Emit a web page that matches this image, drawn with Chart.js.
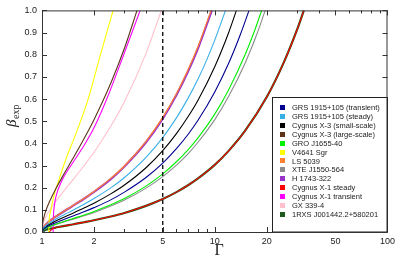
<!DOCTYPE html>
<html>
<head>
<meta charset="utf-8">
<script src="https://cdn.jsdelivr.net/npm/chart.js@4.4.1/dist/chart.umd.min.js"></script>
<style>
  html, body { margin: 0; padding: 0; background: #fff; }
  canvas { display: block; }
</style>
</head>
<body>
<canvas id="grafico" width="399" height="259"></canvas>
<script>
// Nombres de las fuentes (orden de la leyenda)
const seriesNames = [
  'GRS 1915+105 (transient)', 'GRS 1915+105 (steady)', 'Cygnus X-3 (small-scale)',
  'Cygnus X-3 (large-scale)', 'GRO J1655-40', 'V4641 Sgr', 'LS 5039', 'XTE J1550-564',
  'H 1743-322', 'Cygnus X-1 steady', 'Cygnus X-1 transient', 'GX 339-4',
  '1RXS J001442.2+580201'
];

// Ticks del eje x (Gamma, log) y etiquetas visibles
const xTicks = [1, 2, 3, 4, 5, 6, 7, 8, 9, 10, 20, 30, 40, 50, 60, 70, 80, 90, 100];
const xTickLabels = [1, 2, 5, 10, 20, 50, 100];
const gammaCut = 5;

// Curvas: [Gamma, beta_exp]
const grsTransient = [[1,0],[1.02,0.013],[1.05,0.02],[1.1,0.029],[1.2,0.042],[1.35,0.058],[1.5,0.071],[1.75,0.091],[2,0.11],[2.5,0.145],[3,0.18],[4,0.246],[5,0.311],[6,0.376],[7,0.44],[8,0.504],[10,0.632],[12,0.759],[14,0.887],[15.8,1]];
const grsSteady = [[1,0],[1.02,0.017],[1.05,0.028],[1.1,0.04],[1.2,0.058],[1.35,0.079],[1.5,0.097],[1.75,0.125],[2,0.151],[2.5,0.199],[3,0.246],[4,0.337],[5,0.426],[6,0.515],[7,0.603],[8,0.69],[9,0.778],[10,0.866],[11.55,1]];
const cygX3Small = [[1,0],[1.02,0.015],[1.05,0.024],[1.1,0.034],[1.2,0.05],[1.35,0.068],[1.5,0.084],[1.75,0.108],[2,0.13],[2.5,0.172],[3,0.212],[4,0.29],[5,0.367],[6,0.444],[7,0.52],[8,0.595],[10,0.746],[12,0.897],[13.35,1]];
const cygX3Large = [[1,0],[1.01,0.042],[1.02,0.059],[1.05,0.094],[1.1,0.134],[1.2,0.194],[1.35,0.266],[1.5,0.328],[1.75,0.421],[2,0.507],[2.5,0.671],[3,0.829],[3.55,1]];
const groJ1655 = [[1,0],[1.02,0.011],[1.05,0.017],[1.1,0.0245],[1.2,0.035],[1.35,0.0485],[1.5,0.06],[1.75,0.077],[2,0.093],[2.5,0.123],[3,0.151],[4,0.207],[5,0.262],[6,0.317],[7,0.371],[8,0.425],[10,0.532],[12,0.64],[15,0.801],[17,0.908],[18.7,1]];
const v4641Sgr = [[1.095,0],[1.1,0.05],[1.12,0.09],[1.16,0.15],[1.24,0.225],[1.4,0.345],[1.53,0.42],[1.85,0.6],[2.18,0.8],[2.58,1]];
const ls5039 = [[1,0],[1.02,0.021],[1.05,0.034],[1.1,0.048],[1.2,0.07],[1.35,0.096],[1.5,0.118],[1.75,0.151],[2,0.183],[2.5,0.242],[3,0.298],[4,0.409],[5,0.517],[6,0.624],[7,0.731],[8,0.837],[9.53,1]];
const xteJ1550 = [[1,0],[1.02,0.01],[1.05,0.016],[1.1,0.023],[1.2,0.034],[1.35,0.046],[1.5,0.057],[1.75,0.073],[2,0.088],[2.5,0.117],[3,0.144],[4,0.198],[5,0.25],[6,0.302],[7,0.353],[8,0.405],[10,0.507],[12,0.61],[15,0.763],[17.5,0.891],[19.6,1]];
const h1743 = [[1,0],[1.02,0.021],[1.05,0.033],[1.1,0.048],[1.2,0.069],[1.35,0.095],[1.5,0.117],[1.75,0.15],[2,0.181],[2.5,0.239],[3,0.296],[4,0.405],[5,0.512],[6,0.618],[7,0.724],[8,0.829],[9.62,1]];
const cygX1Steady = [[1.1,0],[1.15,0.015],[1.2,0.02],[1.35,0.028],[1.5,0.034],[1.75,0.044],[2,0.053],[2.5,0.07],[3,0.086],[4,0.118],[5,0.149],[6,0.18],[7,0.211],[8,0.242],[10,0.303],[12,0.365],[15,0.457],[20,0.609],[25,0.762],[30,0.914],[32.8,1]];
const cygX1Transient = [[1.16,0],[1.165,0.07],[1.18,0.12],[1.2,0.155],[1.3,0.23],[1.5,0.31],[1.75,0.39],[2,0.47],[2.37,0.6],[2.97,0.8],[3.7,1]];
const gx339 = [[1,0],[1.01,0.029],[1.02,0.042],[1.05,0.067],[1.1,0.095],[1.2,0.138],[1.35,0.189],[1.5,0.233],[1.75,0.299],[2,0.36],[2.5,0.477],[3,0.588],[4,0.806],[4.91,1]];
const rxsJ0014 = [[1,0],[1.05,0.01],[1.1,0.014],[1.2,0.02],[1.35,0.028],[1.5,0.034],[1.75,0.044],[2,0.053],[2.5,0.07],[3,0.086],[4,0.118],[5,0.149],[6,0.18],[7,0.211],[8,0.242],[10,0.303],[12,0.365],[15,0.457],[20,0.609],[25,0.762],[30,0.914],[32.8,1]];

const seriesData = [grsTransient, grsSteady, cygX3Small, cygX3Large, groJ1655, v4641Sgr,
  ls5039, xteJ1550, h1743, cygX1Steady, cygX1Transient, gx339, rxsJ0014];

// Colores de cada curva
const colores = ['#000090', '#38b0e6', '#000000', '#5c3317', '#00f000', '#ffff00',
  '#ff8030', '#8c8c8c', '#9933cc', '#ff0000', '#ff00ff', '#ffc0cb', '#1e5a1e'];
// orden de dibujo (menor = encima)
const ordenes = [1, 1, 1, 1, 1, 1, 1, 1, 3, 1, 1, 1, 3];
const anchos = [1.1, 1.1, 1.1, 1.1, 1.1, 1.1, 1.2, 1.1, 2.2, 1.1, 1.1, 1.1, 2.2];

const datasets = seriesData.map((serie, i) => ({
  label: seriesNames[i],
  data: serie.map(([x, y]) => ({ x, y })),
  borderColor: colores[i],
  borderWidth: anchos[i],
  pointRadius: 0,
  fill: false,
  cubicInterpolationMode: 'monotone',
  order: ordenes[i],
  clip: 0
}));

// Linea vertical discontinua en Gamma = 5
datasets.push({
  label: 'corte',
  data: [{ x: gammaCut, y: 0 }, { x: gammaCut, y: 1 }],
  borderColor: '#000',
  borderWidth: 1.3,
  borderDash: [4, 3],
  pointRadius: 0,
  order: 0
});

// Marco, ticks hacia dentro, titulos y leyenda
const decoraciones = {
  id: 'decoraciones',
  afterDraw(chart) {
    const ctx = chart.ctx;
    const a = chart.chartArea;
    const xs = chart.scales.x, ys = chart.scales.y;
    ctx.save();
    ctx.strokeStyle = '#333';
    ctx.lineWidth = 1;
    // ticks
    ctx.beginPath();
    xTicks.forEach(v => {
      const px = Math.round(xs.getPixelForValue(v)) + 0.5;
      const len = xTickLabels.includes(v) ? 5 : 3;
      ctx.moveTo(px, a.bottom); ctx.lineTo(px, a.bottom - len);
      ctx.moveTo(px, a.top); ctx.lineTo(px, a.top + len);
    });
    for (let k = 0; k <= 10; k++) {
      const py = Math.round(ys.getPixelForValue(k / 10)) + 0.5;
      ctx.moveTo(a.left, py); ctx.lineTo(a.left + 5, py);
      ctx.moveTo(a.right, py); ctx.lineTo(a.right - 5, py);
    }
    ctx.stroke();

    // leyenda
    const lx = 272.5, ly = 97.5, lw = a.right - lx, lh = a.bottom - ly;
    ctx.fillStyle = '#fff';
    ctx.fillRect(lx, ly, lw, lh);
    ctx.strokeStyle = '#222';
    ctx.strokeRect(lx, ly, lw, lh);
    ctx.font = '7.5px "Liberation Sans", Arial, sans-serif';
    ctx.textBaseline = 'middle';
    ctx.textAlign = 'left';
    seriesNames.forEach((nombre, i) => {
      const y = 107.7 + i * 8.88;
      ctx.fillStyle = colores[i];
      ctx.fillRect(280, Math.round(y - 2.5), 5, 5);
      ctx.fillStyle = '#222';
      ctx.fillText(nombre, 292, y + 0.5);
    });

    // marco del grafico
    ctx.strokeStyle = '#333';
    ctx.strokeRect(a.left + 0.5, a.top + 0.5, a.right - a.left - 1, a.bottom - a.top);

    // titulos de ejes
    ctx.fillStyle = '#222';
    ctx.textAlign = 'center';
    ctx.textBaseline = 'middle';
    ctx.font = '16px "Liberation Serif", "DejaVu Serif", serif';
    ctx.fillText('Γ', 219, 251);

    ctx.translate(12, 116);
    ctx.rotate(-Math.PI / 2);
    ctx.textAlign = 'left';
    ctx.font = 'italic 15px "Liberation Serif", "DejaVu Serif", serif';
    const wb = ctx.measureText('β').width;
    ctx.font = '10px "Liberation Serif", "DejaVu Serif", serif';
    const we = ctx.measureText('exp').width;
    const x0 = -(wb + we) / 2;
    ctx.font = 'italic 15px "Liberation Serif", "DejaVu Serif", serif';
    ctx.fillText('β', x0, 0);
    ctx.font = '10px "Liberation Serif", "DejaVu Serif", serif';
    ctx.fillText('exp', x0 + wb + 0.5, 4);
    ctx.restore();
  }
};

new Chart(document.getElementById('grafico').getContext('2d'), {
  type: 'line',
  data: { datasets: datasets },
  options: {
    responsive: false,
    animation: false,
    devicePixelRatio: 1,
    layout: { padding: { top: 7, right: 10, left: 0, bottom: 0 } },
    plugins: {
      legend: { display: false },
      tooltip: { enabled: false }
    },
    scales: {
      x: {
        type: 'logarithmic',
        min: 1,
        max: 100,
        grid: { display: false, drawTicks: false },
        border: { display: false },
        afterBuildTicks: (s) => { s.ticks = xTicks.map(v => ({ value: v })); },
        afterFit: (s) => { s.height = 27; },
        ticks: {
          autoSkip: false,
          maxRotation: 0,
          padding: 4,
          color: '#222',
          font: { family: '"Liberation Sans", Arial, sans-serif', size: 9 },
          callback: (v) => xTickLabels.includes(v) ? String(v) : ''
        }
      },
      y: {
        type: 'linear',
        min: 0,
        max: 1,
        grid: { display: false, drawTicks: false },
        border: { display: false },
        afterFit: (s) => { s.width = 42; },
        ticks: {
          stepSize: 0.1,
          padding: 5,
          color: '#222',
          font: { family: '"Liberation Sans", Arial, sans-serif', size: 9 },
          callback: (v) => v.toFixed(1)
        }
      }
    }
  },
  plugins: [decoraciones]
});
</script>
</body>
</html>
